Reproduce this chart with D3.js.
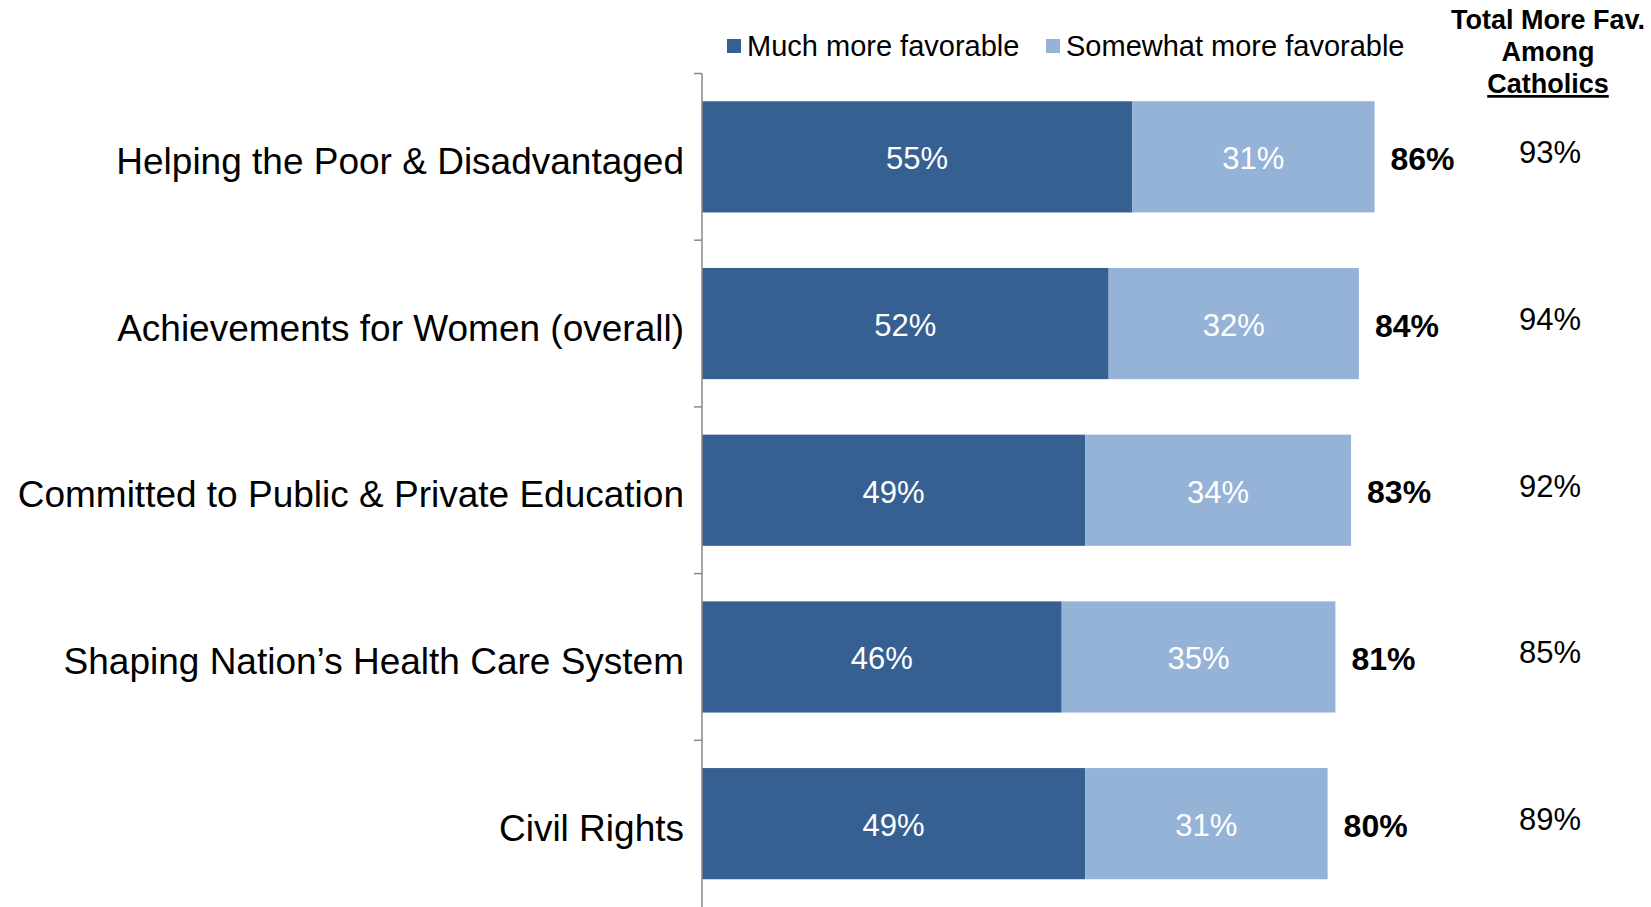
<!DOCTYPE html>
<html>
<head>
<meta charset="utf-8">
<script src="https://cdn.jsdelivr.net/npm/d3@7"></script>
<style>
  body { margin: 0; background: #fff; }
  svg text { font-family: "Liberation Sans", Arial, sans-serif; }
</style>
</head>
<body>
<div id="chart"></div>
<script>
const categories = [
    "Helping the Poor & Disadvantaged",
    "Achievements for Women (overall)",
    "Committed to Public & Private Education",
    "Shaping Nation\u2019s Health Care System",
    "Civil Rights"
];
const muchMore = [55, 52, 49, 46, 49];
const somewhatMore = [31, 32, 34, 35, 31];
const totalMore = [86, 84, 83, 81, 80];
const catholics = [93, 94, 92, 85, 89];
const seriesNames = ["Much more favorable", "Somewhat more favorable"];
const colours = ["#366092", "#95b3d7"];

const width = 1651, height = 907;

const svg = d3.select("#chart").append("svg")
    .attr("width", width)
    .attr("height", height);

const x = d3.scaleLinear()
    .domain([0, 100])
    .range([702, 1484]);

const y = d3.scaleBand()
    .domain(categories)
    .range([73.5, 907])
    .paddingInner(0.333)
    .paddingOuter(0.1665);

const rows = categories.map((c, i) => ({
    cat: c, much: muchMore[i], some: somewhatMore[i], total: totalMore[i], cath: catholics[i]
}));

const midY = d => y(d.cat) + y.bandwidth() / 2;

// bars
svg.selectAll(".bar-much")
    .data(rows)
    .enter().append("rect")
    .attr("x", x(0))
    .attr("y", d => y(d.cat))
    .attr("width", d => x(d.much) - x(0))
    .attr("height", y.bandwidth())
    .attr("fill", colours[0]);

svg.selectAll(".bar-some")
    .data(rows)
    .enter().append("rect")
    .attr("x", d => x(d.much))
    .attr("y", d => y(d.cat))
    .attr("width", d => x(d.much + d.some) - x(d.much))
    .attr("height", y.bandwidth())
    .attr("fill", colours[1]);

// segment labels
svg.selectAll(".lbl-much")
    .data(rows)
    .enter().append("text")
    .attr("x", d => (x(0) + x(d.much)) / 2)
    .attr("y", d => midY(d) + 2)
    .attr("text-anchor", "middle")
    .attr("dominant-baseline", "central")
    .style("font-size", "31px")
    .style("fill", "white")
    .text(d => `${d.much}%`);

svg.selectAll(".lbl-some")
    .data(rows)
    .enter().append("text")
    .attr("x", d => (x(d.much) + x(d.much + d.some)) / 2)
    .attr("y", d => midY(d) + 2)
    .attr("text-anchor", "middle")
    .attr("dominant-baseline", "central")
    .style("font-size", "31px")
    .style("fill", "white")
    .text(d => `${d.some}%`);

// totals
svg.selectAll(".lbl-total")
    .data(rows)
    .enter().append("text")
    .attr("x", d => x(d.total) + 16)
    .attr("y", d => midY(d) + 2)
    .attr("dominant-baseline", "central")
    .style("font-size", "32px")
    .style("font-weight", "bold")
    .style("fill", "black")
    .text(d => `${d.total}%`);

// catholics column
svg.selectAll(".lbl-cath")
    .data(rows)
    .enter().append("text")
    .attr("x", 1550)
    .attr("y", d => midY(d) - 4)
    .attr("text-anchor", "middle")
    .attr("dominant-baseline", "central")
    .style("font-size", "31px")
    .style("fill", "black")
    .text(d => `${d.cath}%`);

// y axis with category labels
const yAxisGroup = svg.append("g")
    .attr("transform", `translate(${x(0)},3)`)
    .call(d3.axisLeft(y).tickSize(0).tickPadding(18));

yAxisGroup.select(".domain").remove();
yAxisGroup.selectAll("text")
    .style("font-size", "37px")
    .style("fill", "black")
    .attr("dy", "0.38em");

svg.append("line")
    .attr("x1", x(0)).attr("x2", x(0))
    .attr("y1", y.range()[0]).attr("y2", y.range()[1])
    .attr("stroke", "#888")
    .attr("stroke-width", 1.5);

const boundaries = categories.map((c, i) => y.range()[0] + i * y.step());
svg.selectAll(".boundary")
    .data(boundaries)
    .enter().append("line")
    .attr("x1", x(0) - 8).attr("x2", x(0))
    .attr("y1", d => d).attr("y2", d => d)
    .attr("stroke", "#888")
    .attr("stroke-width", 1.5);

// legend
const legendX = [727, 1046];
const legend = svg.selectAll(".legend")
    .data(seriesNames)
    .enter().append("g")
    .attr("transform", (d, i) => `translate(${legendX[i]},39)`);

legend.append("rect")
    .attr("width", 14)
    .attr("height", 14)
    .attr("fill", (d, i) => colours[i]);

legend.append("text")
    .attr("x", 20)
    .attr("y", 7)
    .attr("dominant-baseline", "central")
    .style("font-size", "29px")
    .style("fill", "black")
    .text(d => d);

// column header
const header = ["Total More Fav.", "Among", "Catholics"];
svg.selectAll(".hdr")
    .data(header)
    .enter().append("text")
    .attr("x", 1548)
    .attr("y", (d, i) => 29 + i * 32)
    .attr("text-anchor", "middle")
    .style("font-size", "27px")
    .style("font-weight", "bold")
    .style("fill", "black")
    .style("text-decoration", (d, i) => i === 2 ? "underline" : "none")
    .text(d => d);
</script>
</body>
</html>
